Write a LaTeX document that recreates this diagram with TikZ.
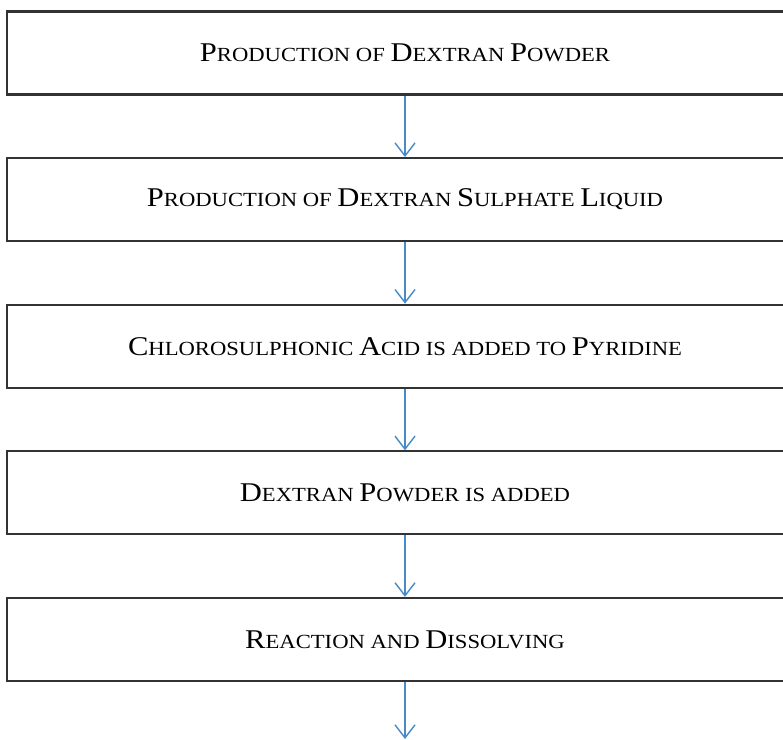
\documentclass[tikz,border=0pt]{standalone}
\usepackage{fontspec}
\setmainfont{Liberation Serif}[FakeStretch=1.13]
\usepackage{tikz}
\usetikzlibrary{positioning}
\usetikzlibrary{arrows.meta}
\definecolor{flowblue}{RGB}{70,138,200}
\newcommand{\bigc}[1]{{\fontsize{7.7pt}{9pt}\selectfont #1}}
\tikzset{stage/.style={draw=black!80, line width=0.6pt,
         minimum width=7.96cm, minimum height=0.83cm,
         inner sep=0pt, font=\fontsize{5.7pt}{7pt}\selectfont},
         flow/.style={draw=flowblue, line width=0.4pt,
         -{Straight Barb[length=1.3mm,width=2mm]}}}

\begin{document}
\begin{tikzpicture}[node distance=0.615cm]
\useasboundingbox (0,0) rectangle (7.83,-7.40);
\clip (0,0) rectangle (7.83,-7.40);

\node[stage] (b1) at (4.05,-0.53) {\bigc{P}RODUCTION OF \bigc{D}EXTRAN \bigc{P}OWDER};
\node[stage, below=of b1] (b2) {\bigc{P}RODUCTION OF \bigc{D}EXTRAN \bigc{S}ULPHATE \bigc{L}IQUID};
\node[stage, below=of b2] (b3) {\bigc{C}HLOROSULPHONIC \bigc{A}CID IS ADDED TO \bigc{P}YRIDINE};
\node[stage, below=of b3] (b4) {\bigc{D}EXTRAN \bigc{P}OWDER IS ADDED};
\node[stage, below=of b4] (b5) {\bigc{R}EACTION AND \bigc{D}ISSOLVING};
\coordinate[below=0.57cm of b5.south] (out);

\draw[flow] (b1) -- (b2);
\draw[flow] (b2) -- (b3);
\draw[flow] (b3) -- (b4);
\draw[flow] (b4) -- (b5);
\draw[flow] (b5) -- (out);

\end{tikzpicture}
\end{document}
